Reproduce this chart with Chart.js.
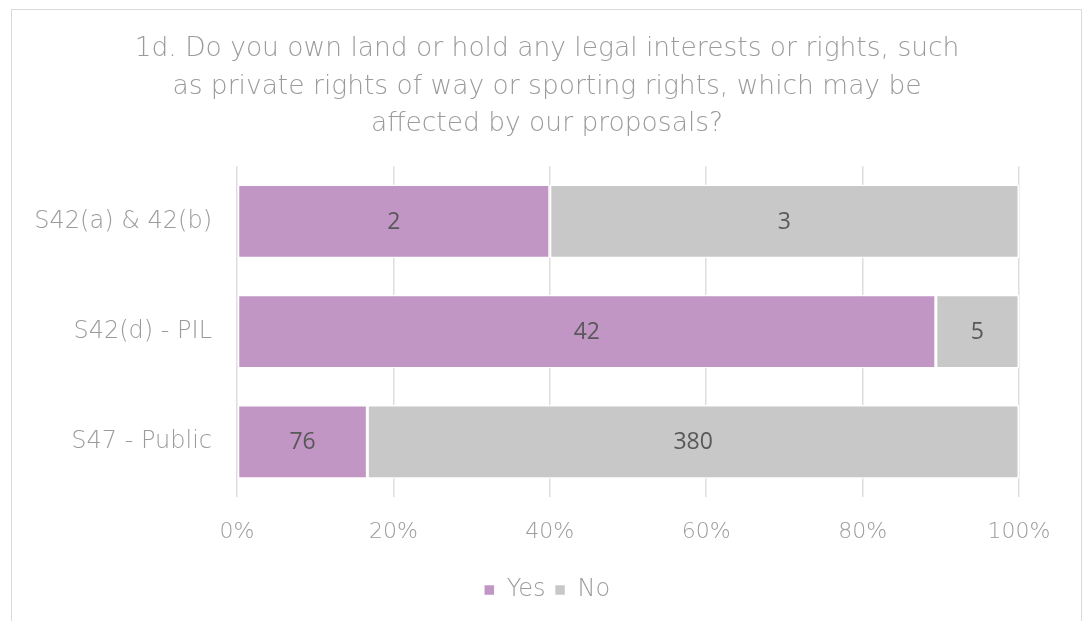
<!DOCTYPE html>
<html>
<head>
<meta charset="utf-8">
<script src="https://cdn.jsdelivr.net/npm/chart.js@4"></script>
<style>
  html, body { margin: 0; padding: 0; background: #fff; }
  body { width: 1083px; height: 621px; position: relative; overflow: hidden; }
  .frame { position: absolute; left: 11px; top: 9px; width: 1069px; height: 640px; border: 1px solid #d9d9d9; }
  #chart { position: absolute; left: 0; top: 0; }
</style>
</head>
<body>
<div class="frame"></div>
<canvas id="chart" width="1083" height="621"></canvas>
<script>
// --- chart data ---
const titleLines = [
  '1d. Do you own land or hold any legal interests or rights, such',
  'as private rights of way or sporting rights, which may be',
  'affected by our proposals?'
];
const groups = ['S42(a) & 42(b)', 'S42(d) - PIL', 'S47 - Public'];
const yesCounts = [2, 42, 76];
const noCounts = [3, 5, 380];
const xTicks = [0, 20, 40, 60, 80, 100];

const TEXT_GREY = '#9b9b9b';
const FONT = '"DejaVu Sans", sans-serif';

// share of each answer within its group, in percent
const totals = groups.map((g, i) => yesCounts[i] + noCounts[i]);
const yesPct = yesCounts.map((v, i) => v / totals[i] * 100);
const noPct = noCounts.map((v, i) => v / totals[i] * 100);

// writes the raw count in the middle of each bar segment
const countLabels = {
  id: 'countLabels',
  afterDatasetsDraw(chart) {
    const ctx = chart.ctx;
    ctx.save();
    ctx.font = '23px "Open Sans", sans-serif';
    ctx.fillStyle = '#595959';
    ctx.textAlign = 'center';
    ctx.textBaseline = 'middle';
    chart.data.datasets.forEach((ds, di) => {
      chart.getDatasetMeta(di).data.forEach((bar, i) => {
        const p = bar.getCenterPoint();
        ctx.fillText(String(ds.counts[i]), p.x, p.y + 1);
      });
    });
    ctx.restore();
  }
};

new Chart(document.getElementById('chart'), {
  type: 'bar',
  data: {
    labels: groups,
    datasets: [
      { label: 'Yes', data: yesPct, counts: yesCounts, backgroundColor: '#c195c4' },
      { label: 'No', data: noPct, counts: noCounts, backgroundColor: '#c8c8c8' }
    ]
  },
  options: {
    indexAxis: 'y',
    responsive: false,
    animation: false,
    layout: { padding: { left: 11, right: 0, top: 0, bottom: 9 } },
    datasets: {
      bar: {
        categoryPercentage: 1,
        barPercentage: 0.67,
        borderColor: '#ffffff',
        borderWidth: 1.5,
        borderSkipped: false
      }
    },
    scales: {
      x: {
        stacked: true,
        min: 0,
        max: 100,
        afterBuildTicks: scale => { scale.ticks = xTicks.map(v => ({ value: v })); },
        afterFit: scale => { scale.height = 72; },
        grid: { color: '#dedede', lineWidth: 1.5, drawTicks: false },
        border: { display: false },
        ticks: {
          padding: 22,
          color: TEXT_GREY,
          font: { family: FONT, size: 22, weight: 200 },
          callback: v => v + '%'
        }
      },
      y: {
        stacked: true,
        afterFit: scale => { scale.width = 226; },
        grid: { display: false, drawTicks: false },
        border: { display: false },
        ticks: {
          padding: 25,
          color: TEXT_GREY,
          font: { family: FONT, size: 24, weight: 200 }
        }
      },
      // empty right-hand strip, keeps the plot clear of the frame edge
      spacer: {
        type: 'linear',
        axis: 'y',
        position: 'right',
        afterFit: scale => { scale.width = 64; },
        grid: { display: false, drawTicks: false },
        border: { display: false },
        ticks: { display: false }
      }
    },
    plugins: {
      title: {
        display: true,
        text: titleLines,
        color: TEXT_GREY,
        font: { family: FONT, size: 26.5, weight: 200, lineHeight: 1.4 },
        padding: { top: 31, bottom: 24 }
      },
      legend: {
        position: 'bottom',
        labels: {
          color: TEXT_GREY,
          font: { family: FONT, size: 24, weight: 200 },
          boxWidth: 11,
          boxHeight: 11,
          padding: 9
        }
      },
      tooltip: { enabled: false }
    }
  },
  plugins: [countLabels]
});
</script>
</body>
</html>
